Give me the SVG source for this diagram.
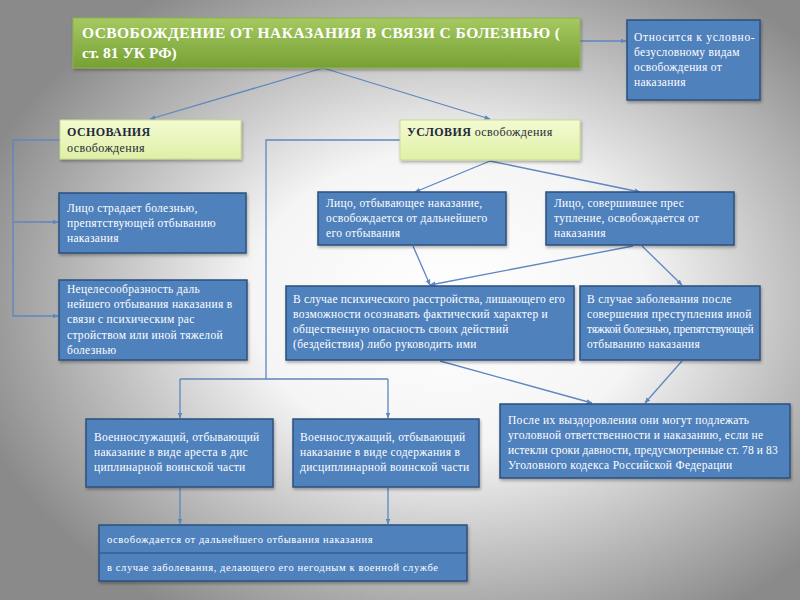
<svg xmlns="http://www.w3.org/2000/svg" width="800" height="600" viewBox="0 0 800 600">
<defs>
<radialGradient id="bg" cx="0.56" cy="0.5" r="0.62">
<stop offset="0" stop-color="#ffffff"/>
<stop offset="0.4" stop-color="#f5f5f5"/>
<stop offset="1" stop-color="#8a8a8a"/>
</radialGradient>
<linearGradient id="gTitle" x1="0" y1="0" x2="0" y2="1">
<stop offset="0" stop-color="#a5c961"/>
<stop offset="1" stop-color="#76a034"/>
</linearGradient>
<linearGradient id="gLight" x1="0" y1="0" x2="0" y2="1">
<stop offset="0" stop-color="#f3fbd2"/>
<stop offset="1" stop-color="#dff0a6"/>
</linearGradient>
<filter id="sh" x="-10%" y="-10%" width="120%" height="130%">
<feDropShadow dx="1" dy="2" stdDeviation="1.5" flood-color="#000" flood-opacity="0.3"/>
</filter>
<marker id="ar" viewBox="0 0 10 10" refX="9" refY="5" markerWidth="6" markerHeight="6" orient="auto" markerUnits="userSpaceOnUse">
<path d="M0,1 L10,5 L0,9 z" fill="#5f86bf"/>
</marker>
<style>
.blue{fill:#4f81bd;stroke:#2b4f7e;stroke-width:1.5;filter:url(#sh)}
.light{fill:url(#gLight);stroke:#c9dc8f;stroke-width:1;filter:url(#sh)}
.t{font-family:"Liberation Serif","DejaVu Serif",serif;fill:#ffffff;font-size:11.5px;letter-spacing:0.3px}
.d{font-family:"Liberation Serif","DejaVu Serif",serif;fill:#1f2a3a;font-size:12px;letter-spacing:0.4px}
.ttl{font-family:"Liberation Serif","DejaVu Serif",serif;fill:#ffffff;font-size:15.5px;font-weight:bold}
.c{fill:none;stroke:#5f86bf;stroke-width:1.3}
.s{font-size:10.5px;letter-spacing:0.6px}
</style>
</defs>
<rect x="0" y="0" width="800" height="600" fill="url(#bg)"/>

<g id="connectors">
<line class="c" x1="580" y1="41" x2="626" y2="41" marker-end="url(#ar)"/>
<line class="c" x1="323" y1="68" x2="150" y2="119" marker-end="url(#ar)"/>
<line class="c" x1="323" y1="68" x2="490" y2="119" marker-end="url(#ar)"/>
<polyline class="c" points="60,140 13,140 13,316"/>
<line class="c" x1="13" y1="222" x2="58" y2="222" marker-end="url(#ar)"/>
<line class="c" x1="13" y1="316" x2="58" y2="316" marker-end="url(#ar)"/>
<polyline class="c" points="400,140 266,140 266,379"/>
<line class="c" x1="180" y1="379" x2="388" y2="379"/>
<line class="c" x1="180" y1="379" x2="180" y2="418" marker-end="url(#ar)"/>
<line class="c" x1="388" y1="379" x2="388" y2="418" marker-end="url(#ar)"/>
<line class="c" x1="490" y1="161" x2="415" y2="192" marker-end="url(#ar)"/>
<line class="c" x1="490" y1="161" x2="640" y2="192" marker-end="url(#ar)"/>
<line class="c" x1="413" y1="246" x2="430" y2="285" marker-end="url(#ar)"/>
<line class="c" x1="633" y1="246" x2="430" y2="285" marker-end="url(#ar)"/>
<line class="c" x1="642" y1="246" x2="682" y2="285" marker-end="url(#ar)"/>
<line class="c" x1="440" y1="361" x2="592" y2="403" marker-end="url(#ar)"/>
<line class="c" x1="682" y1="361" x2="645" y2="403" marker-end="url(#ar)"/>
<line class="c" x1="180" y1="488" x2="180" y2="524" marker-end="url(#ar)"/>
<line class="c" x1="388" y1="488" x2="388" y2="524" marker-end="url(#ar)"/>
</g>

<g id="title">
<rect x="73" y="18" width="507" height="50" fill="url(#gTitle)" stroke="#8fb14f" stroke-width="1" filter="url(#sh)"/>
<text class="ttl" x="82" y="38" textLength="478">ОСВОБОЖДЕНИЕ ОТ НАКАЗАНИЯ В СВЯЗИ С БОЛЕЗНЬЮ (</text>
<text class="ttl" x="82" y="58">ст. 81 УК РФ)</text>
</g>

<g id="type-box">
<rect class="blue" x="627" y="20" width="133" height="80"/>
<text class="t" x="634" y="41" textLength="121">Относится к условно-</text>
<text class="t" x="634" y="56">безусловному видам</text>
<text class="t" x="634" y="71">освобождения от</text>
<text class="t" x="634" y="86">наказания</text>
</g>

<g id="osnovaniya">
<rect class="light" x="60" y="120" width="181" height="39"/>
<text class="d" x="67" y="136" font-weight="bold">ОСНОВАНИЯ</text>
<text class="d" x="67" y="152">освобождения</text>
</g>

<g id="usloviya">
<rect class="light" x="400" y="120" width="180" height="40"/>
<text class="d" x="407" y="136"><tspan font-weight="bold">УСЛОВИЯ</tspan> освобождения</text>
</g>

<g id="l1">
<rect class="blue" x="59" y="193" width="187" height="60"/>
<text class="t" x="67" y="212">Лицо страдает болезнью,</text>
<text class="t" x="67" y="227">препятствующей отбыванию</text>
<text class="t" x="67" y="242">наказания</text>
</g>

<g id="l2">
<rect class="blue" x="59" y="280" width="188" height="80"/>
<text class="t" x="67" y="293">Нецелесообразность даль</text>
<text class="t" x="67" y="308">нейшего отбывания наказания в</text>
<text class="t" x="67" y="323">связи с психическим рас</text>
<text class="t" x="67" y="339">стройством или иной тяжелой</text>
<text class="t" x="67" y="354">болезнью</text>
</g>

<g id="m1">
<rect class="blue" x="318" y="192" width="188" height="53"/>
<text class="t" x="326" y="207">Лицо, отбывающее наказание,</text>
<text class="t" x="326" y="222">освобождается от дальнейшего</text>
<text class="t" x="326" y="237">его отбывания</text>
</g>

<g id="m2">
<rect class="blue" x="546" y="192" width="188" height="53"/>
<text class="t" x="554" y="207">Лицо, совершившее прес</text>
<text class="t" x="554" y="222">тупление, освобождается от</text>
<text class="t" x="554" y="237">наказания</text>
</g>

<g id="m3">
<rect class="blue" x="286" y="286" width="288" height="74"/>
<text class="t" x="293" y="303" textLength="272">В случае психического расстройства, лишающего его</text>
<text class="t" x="293" y="318">возможности осознавать фактический характер и</text>
<text class="t" x="293" y="333">общественную опасность своих действий</text>
<text class="t" x="293" y="348">(бездействия) либо руководить ими</text>
</g>

<g id="m4">
<rect class="blue" x="580" y="286" width="180" height="74"/>
<text class="t" x="587" y="303">В случае заболевания после</text>
<text class="t" x="587" y="318">совершения преступления иной</text>
<text class="t" x="587" y="333" textLength="167">тяжкой болезнью, препятствующей</text>
<text class="t" x="587" y="348">отбыванию наказания</text>
</g>

<g id="r">
<rect class="blue" x="500" y="404" width="290" height="74"/>
<text class="t" x="508" y="424">После их выздоровления они могут подлежать</text>
<text class="t" x="508" y="439">уголовной ответственности и наказанию, если не</text>
<text class="t" x="508" y="454" textLength="270">истекли сроки давности, предусмотренные ст. 78 и 83</text>
<text class="t" x="508" y="469">Уголовного кодекса Российской Федерации</text>
</g>

<g id="b1">
<rect class="blue" x="86" y="419" width="187" height="68"/>
<text class="t" x="94" y="441">Военнослужащий, отбывающий</text>
<text class="t" x="94" y="456">наказание в виде ареста в дис</text>
<text class="t" x="94" y="471">циплинарной воинской части</text>
</g>

<g id="b2">
<rect class="blue" x="293" y="419" width="186" height="68"/>
<text class="t" x="300" y="441">Военнослужащий, отбывающий</text>
<text class="t" x="300" y="456">наказание в виде содержания в</text>
<text class="t" x="300" y="471">дисциплинарной воинской части</text>
</g>

<g id="bottom">
<rect class="blue" x="99" y="525" width="368" height="56"/>
<line x1="99" y1="553" x2="467" y2="553" stroke="#2b4f7e" stroke-width="1.2"/>
<text class="t s" x="107" y="543">освобождается от дальнейшего отбывания наказания</text>
<text class="t s" x="107" y="571">в случае заболевания, делающего его негодным к военной службе</text>
</g>
</svg>
